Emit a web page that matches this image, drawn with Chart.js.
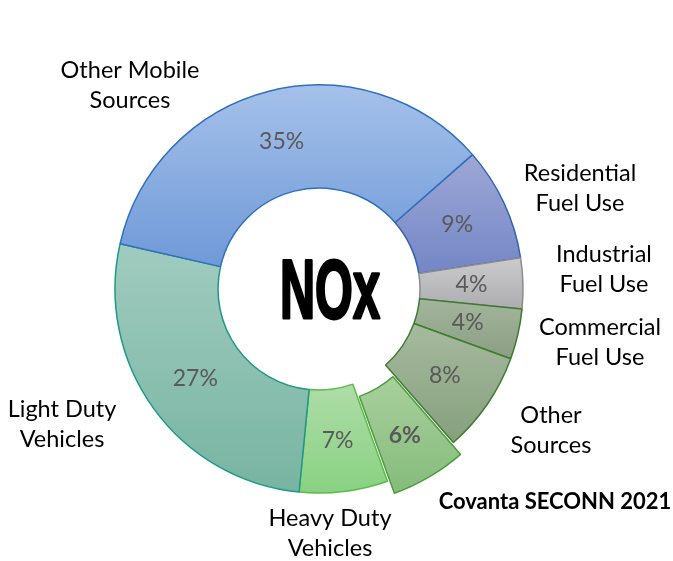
<!DOCTYPE html>
<html>
<head>
<meta charset="utf-8">
<script src="https://cdn.jsdelivr.net/npm/chart.js@4.4.0/dist/chart.umd.min.js"></script>
<style>
  html, body { margin: 0; padding: 0; background: #fff; }
  #wrap { width: 673px; height: 561px; }
</style>
</head>
<body>
<div id="wrap"><canvas id="noxChart"></canvas></div>
<script>
// NOx emission shares, clockwise from the top right
var categories = ['Residential Fuel Use', 'Industrial Fuel Use', 'Commercial Fuel Use', 'Other Sources',
                  'Covanta SECONN 2021', 'Heavy Duty Vehicles', 'Light Duty Vehicles', 'Other Mobile Sources'];
var shares = [9, 4, 4, 8, 6, 7, 27, 35];
var labelLines = [['Residential', 'Fuel Use'], ['Industrial', 'Fuel Use'], ['Commercial', 'Fuel Use'],
                  ['Other', 'Sources'], ['Covanta SECONN 2021'], ['Heavy Duty', 'Vehicles'],
                  ['Light Duty', 'Vehicles'], ['Other Mobile', 'Sources']];

var fillTop    = ['#9ea8d6', '#cbcbcd', '#a3b59c', '#a7ba9f', '#a9d19d', '#aedda8', '#a0ccbf', '#a5c1ea'];
var fillBottom = ['#7486c6', '#adadb1', '#8b9f84', '#86a07d', '#87bc7d', '#89d182', '#78b4a2', '#6f99d8'];
var edgeColor  = ['#2e63ad', '#8c8c90', '#3d7a2e', '#3f7d30', '#4e9e3e', '#5cbb4c', '#1a9a88', '#2f70bb'];

var startDeg = 48.8;
var outerR = 204;
var cutRatio = 0.495;

// where the category names sit (text anchor, baseline of first line)
var namePos = [[580, 181], [604, 262], [600, 335], [551, 423], [555, 509], [330, 526], [62, 417], [130, 78]];

function sliceFill(context) {
    var chart = context.chart;
    var area = chart.chartArea;
    var i = context.dataIndex;
    if (!area || i === undefined) return fillTop[i || 0];
    var total = shares.reduce(function(a, b) { return a + b; }, 0);
    var a0 = (startDeg - 90) * Math.PI / 180;
    for (var k = 0; k < i; k++) a0 += shares[k] / total * 2 * Math.PI;
    var a1 = a0 + shares[i] / total * 2 * Math.PI;
    var r = outerR * cutRatio;
    var ys = [Math.sin(a0) * outerR, Math.sin(a1) * outerR, Math.sin(a0) * r, Math.sin(a1) * r];
    [-Math.PI / 2, Math.PI / 2, 3 * Math.PI / 2].forEach(function(a) {
        if (a > a0 && a < a1) ys.push(Math.sin(a) * outerR);
    });
    var cy = (area.top + area.bottom) / 2;
    var g = chart.ctx.createLinearGradient(0, cy + Math.min.apply(null, ys), 0, cy + Math.max.apply(null, ys));
    g.addColorStop(0, fillTop[i]);
    g.addColorStop(1, fillBottom[i]);
    return g;
}

var textPlugin = {
    id: 'noxText',
    afterDatasetsDraw: function(chart) {
        var ctx = chart.ctx;
        var arcs = chart.getDatasetMeta(0).data;
        ctx.save();
        ctx.textAlign = 'center';
        // percentages inside the ring
        arcs.forEach(function(arc, i) {
            var p = arc.getCenterPoint();
            ctx.fillStyle = '#595959';
            ctx.font = (i === 4 ? 'bold ' : '') + '23px Lato';
            ctx.textBaseline = 'middle';
            ctx.fillText(shares[i] + '%', p.x, p.y);
        });
        // category names
        ctx.textBaseline = 'alphabetic';
        ctx.fillStyle = '#000';
        labelLines.forEach(function(lines, i) {
            ctx.font = i === 4 ? 'bold 22px Lato' : '23.5px Lato';
            lines.forEach(function(t, j) {
                ctx.fillText(t, namePos[i][0], namePos[i][1] + j * 30);
            });
        });
        // centre title, squeezed to a condensed look and thickened
        ctx.save();
        ctx.font = 'bold 84px "Liberation Sans"';
        var w = ctx.measureText('NOx').width;
        ctx.translate(330, 318);
        ctx.scale(100 / w, 1);
        ctx.lineWidth = 3;
        ctx.lineJoin = 'round';
        ctx.strokeStyle = '#000';
        ctx.strokeText('NOx', 0, 0);
        ctx.fillText('NOx', 0, 0);
        ctx.restore();
        ctx.restore();
    }
};

document.addEventListener('DOMContentLoaded', function() {
    var ctx = document.getElementById('noxChart').getContext('2d');
    var noxChart = new Chart(ctx, {
        type: 'doughnut',
        data: {
            labels: categories,
            datasets: [{
                data: shares,
                backgroundColor: sliceFill,
                borderColor: edgeColor,
                borderWidth: 1.5,
                offset: [0, 0, 0, 0, 34, 0, 0, 0]
            }]
        },
        options: {
            responsive: true,
            maintainAspectRatio: false,
            animation: false,
            rotation: startDeg,
            radius: outerR,
            cutout: (cutRatio * 100) + '%',
            layout: { padding: { left: 100, right: 135, top: 70, bottom: 53 } },
            plugins: {
                legend: { display: false },
                tooltip: { enabled: false }
            }
        },
        plugins: [textPlugin]
    });
});
</script>
</body>
</html>
